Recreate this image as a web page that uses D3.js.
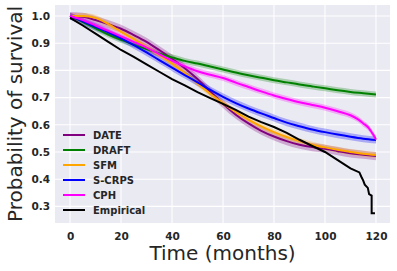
<!DOCTYPE html>
<html>
<head>
<meta charset="utf-8">
<script src="https://cdn.jsdelivr.net/npm/d3@7"></script>
<style>
  body { margin: 0; background: #fff; }
  text { font-family: "DejaVu Sans", sans-serif; fill: #262626; }
</style>
</head>
<body>
<div id="chart"></div>
<script>
// 数据
const times = [0, 5, 10, 15, 20, 25, 30, 35, 40, 45, 50, 55, 60, 65, 70, 75, 80, 85, 90, 95, 100, 105, 110, 115, 120];

const dateSurv  = [1.0, 0.997, 0.985, 0.97, 0.953, 0.93, 0.905, 0.875, 0.843, 0.808, 0.768, 0.722, 0.677, 0.637, 0.605, 0.578, 0.557, 0.54, 0.527, 0.518, 0.512, 0.503, 0.495, 0.49, 0.485];
const draftSurv = [1.0, 0.978, 0.955, 0.932, 0.912, 0.895, 0.878, 0.862, 0.848, 0.835, 0.825, 0.814, 0.803, 0.792, 0.782, 0.773, 0.764, 0.756, 0.748, 0.741, 0.734, 0.727, 0.721, 0.716, 0.711];
const sfmSurv   = [1.0, 1.0, 0.993, 0.97, 0.942, 0.915, 0.886, 0.857, 0.825, 0.79, 0.752, 0.714, 0.68, 0.647, 0.619, 0.594, 0.573, 0.555, 0.54, 0.527, 0.517, 0.508, 0.5, 0.494, 0.489];
const scrpsSurv = [1.0, 0.98, 0.96, 0.94, 0.918, 0.893, 0.866, 0.838, 0.81, 0.783, 0.756, 0.728, 0.703, 0.68, 0.66, 0.642, 0.625, 0.608, 0.595, 0.583, 0.573, 0.564, 0.556, 0.549, 0.544];

// CPH 尾部下降较快，单独给时间点
const cphTimes = [0, 5, 10, 15, 20, 25, 30, 35, 40, 45, 50, 55, 60, 65, 70, 75, 80, 85, 90, 95, 100, 105, 110, 113, 115, 117, 118.5, 119.5, 120];
const cphSurv  = [1.0, 0.985, 0.965, 0.945, 0.925, 0.905, 0.884, 0.86, 0.836, 0.815, 0.797, 0.784, 0.772, 0.755, 0.739, 0.723, 0.708, 0.695, 0.683, 0.673, 0.663, 0.65, 0.635, 0.62, 0.605, 0.59, 0.57, 0.555, 0.545];

// 经验生存曲线（Kaplan-Meier）
const empTimes = [0, 5, 10, 15, 20, 25, 30, 35, 40, 45, 50, 55, 60, 65, 70, 75, 80, 85, 90, 95, 100, 105, 110, 113.5, 114.2, 115, 115.6, 116.8, 117.3, 118.3, 118.3, 119.6];
const empSurv  = [0.993, 0.965, 0.935, 0.905, 0.875, 0.85, 0.822, 0.795, 0.768, 0.745, 0.72, 0.698, 0.677, 0.655, 0.63, 0.61, 0.592, 0.57, 0.545, 0.522, 0.5, 0.47, 0.44, 0.425, 0.41, 0.395, 0.38, 0.368, 0.345, 0.34, 0.275, 0.275];

// 置信带半宽
const ciHalfWidth = [0.015, 0.011, 0.011, 0.013, 0.011];

const seriesNames = ["DATE", "DRAFT", "SFM", "S-CRPS", "CPH", "Empirical"];
const seriesColors = ["purple", "green", "orange", "blue", "magenta", "black"];

const xTicks = [0, 20, 40, 60, 80, 100, 120];
const yTicks = [0.3, 0.4, 0.5, 0.6, 0.7, 0.8, 0.9, 1.0];

// 画布
const width = 397, height = 271;
const margin = {left: 55, top: 5, right: 7, bottom: 48};
const innerW = width - margin.left - margin.right;
const innerH = height - margin.top - margin.bottom;

const svg = d3.select("#chart").append("svg")
    .attr("width", width)
    .attr("height", height);

const g = svg.append("g")
    .attr("transform", `translate(${margin.left},${margin.top})`);

const x = d3.scaleLinear().domain([-5.9, 125.5]).range([0, innerW]);
const y = d3.scaleLinear().domain([0.239, 1.0404]).range([innerH, 0]);

// 背景（seaborn darkgrid）
g.append("rect")
    .attr("width", innerW)
    .attr("height", innerH)
    .attr("fill", "#EAEAF2");

// 网格线
g.selectAll(".xgrid").data(xTicks).enter().append("line")
    .attr("x1", d => x(d)).attr("x2", d => x(d))
    .attr("y1", 0).attr("y2", innerH)
    .attr("stroke", "#fff").attr("stroke-width", 1.1);

g.selectAll(".ygrid").data(yTicks).enter().append("line")
    .attr("x1", 0).attr("x2", innerW)
    .attr("y1", d => y(d)).attr("y2", d => y(d))
    .attr("stroke", "#fff").attr("stroke-width", 1.1);

// 坐标轴（不画轴线，只要刻度文字）
const xAxis = g.append("g")
    .attr("transform", `translate(0,${innerH})`)
    .call(d3.axisBottom(x).tickValues(xTicks).tickSize(0).tickPadding(10).tickFormat(d3.format("d")));
const yAxis = g.append("g")
    .call(d3.axisLeft(y).tickValues(yTicks).tickSize(0).tickPadding(5).tickFormat(d3.format(".1f")));

[xAxis, yAxis].forEach(ax => {
    ax.select(".domain").remove();
    ax.selectAll("text")
        .style("font-family", "DejaVu Sans")
        .style("font-weight", "bold")
        .style("font-size", "10.5px")
        .attr("fill", "#262626");
});

// 组装模型曲线
const models = [
    {name: "DATE", t: times, s: dateSurv},
    {name: "DRAFT", t: times, s: draftSurv},
    {name: "SFM", t: times, s: sfmSurv},
    {name: "S-CRPS", t: times, s: scrpsSurv},
    {name: "CPH", t: cphTimes, s: cphSurv}
];

const line = d3.line()
    .x(d => x(d[0]))
    .y(d => y(d[1]));

const band = d3.area()
    .x(d => x(d[0]))
    .y0(d => y(d[1] - d[2]))
    .y1(d => y(d[1] + d[2]));

// 置信带
models.forEach((m, i) => {
    const pts = m.t.map((t, k) => [t, m.s[k], ciHalfWidth[i]]);
    g.append("path")
        .datum(pts)
        .attr("d", band.curve(d3.curveMonotoneX))
        .attr("fill", seriesColors[i])
        .attr("opacity", 0.28);
});

// 曲线
models.forEach((m, i) => {
    const pts = m.t.map((t, k) => [t, m.s[k]]);
    g.append("path")
        .datum(pts)
        .attr("d", line.curve(d3.curveMonotoneX))
        .attr("fill", "none")
        .attr("stroke", seriesColors[i])
        .attr("stroke-width", 2);
});

// 经验曲线
g.append("path")
    .datum(empTimes.map((t, k) => [t, empSurv[k]]))
    .attr("d", line.curve(d3.curveLinear))
    .attr("fill", "none")
    .attr("stroke", "black")
    .attr("stroke-width", 2);

// 图例
const legend = g.append("g").attr("transform", "translate(8,130)");
seriesNames.forEach((name, i) => {
    const row = legend.append("g").attr("transform", `translate(0,${i * 15})`);
    row.append("line")
        .attr("x1", 0).attr("x2", 22)
        .attr("y1", 0).attr("y2", 0)
        .attr("stroke", seriesColors[i])
        .attr("stroke-width", 2);
    row.append("text")
        .attr("x", 30).attr("y", 3.6)
        .style("font-weight", "bold")
        .style("font-size", "10px")
        .text(name);
});

// 轴标题
svg.append("text")
    .attr("x", margin.left + innerW / 2)
    .attr("y", 260)
    .attr("text-anchor", "middle")
    .style("font-size", "20px")
    .text("Time (months)");

svg.append("text")
    .attr("transform", `translate(22,${margin.top + innerH / 2}) rotate(-90)`)
    .attr("text-anchor", "middle")
    .style("font-size", "20px")
    .text("Probability of survival");
</script>
</body>
</html>
